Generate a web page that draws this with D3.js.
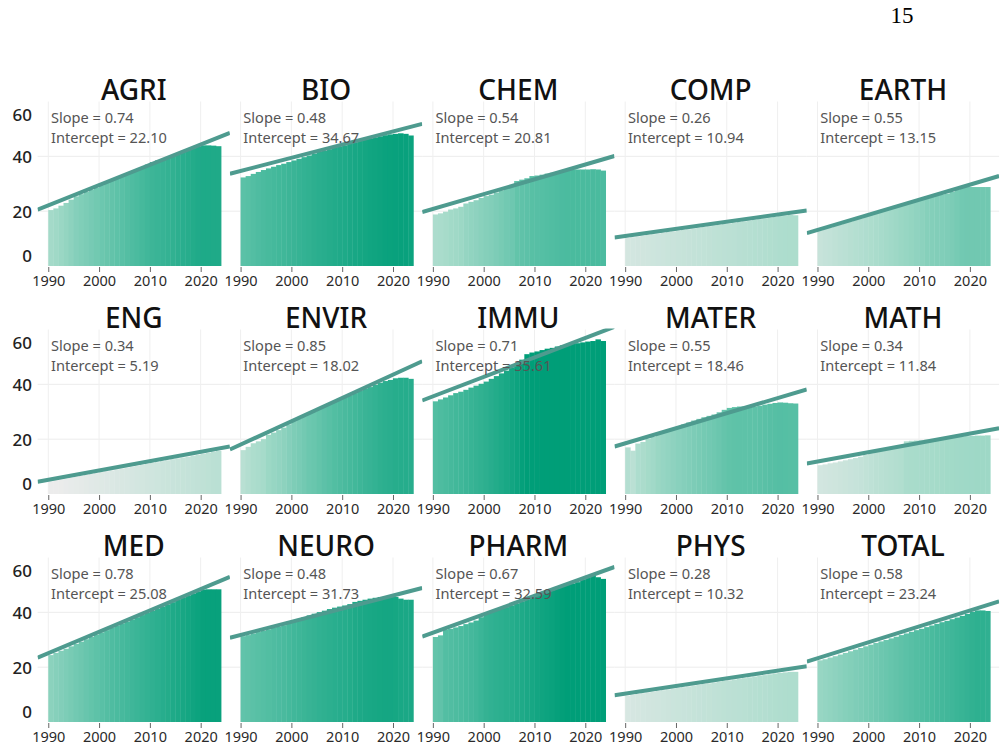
<!DOCTYPE html>
<html>
<head>
<meta charset="utf-8">
<script src="https://cdn.jsdelivr.net/npm/d3@7"></script>
<style>
  html, body { margin: 0; padding: 0; background: #ffffff; }
  svg { display: block; }
</style>
</head>
<body>
<div id="chart"></div>
<script>
// ---------------- data ----------------
const years = [1990,1991,1992,1993,1994,1995,1996,1997,1998,1999,
               2000,2001,2002,2003,2004,2005,2006,2007,2008,2009,
               2010,2011,2012,2013,2014,2015,2016,2017,2018,2019,
               2020,2021,2022,2023];
const fields = ["AGRI","BIO","CHEM","COMP","EARTH","ENG","ENVIR","IMMU",
                "MATER","MATH","MED","NEURO","PHARM","PHYS","TOTAL"];
const slopes     = [0.74, 0.48, 0.54, 0.26, 0.55, 0.34, 0.85, 0.71, 0.55, 0.34, 0.78, 0.48, 0.67, 0.28, 0.58];
const intercepts = [22.10, 34.67, 20.81, 10.94, 13.15, 5.19, 18.02, 35.61, 18.46, 11.84, 25.08, 31.73, 32.59, 10.32, 23.24];
const xTickYears  = [1990, 2000, 2010, 2020];
const yTickValues = [0, 20, 40, 60];
const pageNumber = "15";

const agri  = [20.4,21.0,22.0,23.0,24.2,25.4,26.2,27.0,27.8,28.6,29.5,30.3,31.1,31.9,32.7,33.5,34.3,35.1,36.0,37.0,37.9,38.5,39.0,39.6,40.3,41.0,41.7,42.3,43.0,43.6,44.0,44.0,43.9,43.7];
const bio   = [32.3,32.8,33.6,34.3,35.0,35.6,36.2,36.8,37.3,37.9,38.5,39.1,39.7,40.3,41.0,41.6,42.0,42.6,43.1,43.6,44.0,44.6,45.1,45.6,46.0,46.5,46.9,47.3,47.7,48.0,48.2,48.4,48.2,47.6];
const chem  = [18.8,19.2,19.8,20.6,21.0,21.6,22.8,23.4,24.0,24.8,25.5,26.0,26.8,27.6,28.5,29.2,31.0,31.5,32.0,32.8,33.0,33.3,33.7,34.0,34.3,34.8,35.0,35.2,35.2,35.2,35.2,35.3,35.2,34.8];
const comp  = [10.2,10.5,10.8,11.0,11.3,11.6,11.8,12.1,12.4,12.6,12.9,13.2,13.4,13.7,14.0,14.2,14.5,14.8,15.0,15.3,15.5,15.8,16.1,16.3,16.6,16.9,17.1,17.4,17.7,17.9,18.2,18.4,18.6,18.5];
const earth = [13.0,13.5,14.0,14.6,15.2,15.8,16.3,16.9,17.4,18.0,18.6,19.2,19.7,20.3,20.8,21.4,22.0,22.5,23.0,23.6,24.3,25.3,25.6,25.9,26.1,26.4,27.0,27.7,28.5,28.8,28.8,28.8,28.8,28.8];
const eng   = [4.6,5.0,5.3,5.6,6.0,6.3,6.6,7.0,7.3,7.6,8.0,8.3,8.6,9.0,9.3,9.6,10.0,10.3,10.6,11.0,11.3,11.6,12.0,12.3,12.7,13.0,13.3,13.6,14.0,14.3,14.7,15.0,15.4,15.7];
const envir = [16.0,17.2,18.5,19.2,20.0,21.6,22.4,23.3,24.2,25.4,26.6,27.5,28.4,29.5,30.0,31.0,32.0,32.8,33.8,34.5,35.3,36.0,36.8,37.6,38.4,39.0,39.8,40.6,41.2,41.6,42.2,42.4,42.4,42.0];
const immu  = [33.8,34.5,35.2,36.0,36.8,37.3,38.0,38.8,39.5,40.2,41.0,42.0,43.0,44.0,45.0,46.2,47.5,49.0,51.0,51.6,52.0,52.5,53.0,53.3,53.8,54.2,54.5,54.8,55.0,55.3,55.6,55.8,56.4,55.8];
const mater = [17.0,15.8,18.4,19.0,20.2,20.8,22.0,22.6,23.3,24.0,24.7,25.4,26.1,26.8,27.4,28.0,28.5,29.0,29.8,30.7,31.4,31.7,31.9,31.9,31.9,31.9,32.2,32.6,32.9,33.2,33.4,33.3,33.1,33.0];
const math  = [10.5,10.8,11.2,11.5,11.9,12.3,12.7,13.1,13.6,14.2,14.9,15.4,15.9,16.3,16.7,17.2,17.6,19.2,19.4,19.5,19.6,19.8,20.0,20.2,20.4,20.6,20.7,20.8,21.0,21.1,21.2,21.3,21.3,21.4];
const med   = [24.4,25.2,26.0,26.7,27.6,28.5,29.3,30.2,31.0,31.9,32.7,33.5,34.3,35.1,35.9,36.6,37.4,38.2,39.0,39.8,40.5,41.3,42.1,42.9,43.7,44.5,45.3,46.0,46.8,47.6,48.3,48.4,48.4,48.4];
const neuro = [31.3,31.7,32.3,32.8,33.3,33.8,34.3,34.8,35.3,36.2,37.0,37.6,38.3,38.9,39.5,40.1,40.6,41.2,41.7,42.1,42.5,43.0,43.8,44.2,44.6,45.0,45.3,45.6,45.8,45.8,45.6,45.0,44.6,44.6];
const pharm = [31.0,31.6,33.7,34.0,34.5,35.0,35.7,36.3,37.0,38.2,39.5,40.1,40.7,41.3,41.9,42.5,43.2,43.9,44.6,45.4,46.2,46.8,47.4,48.1,48.8,49.5,50.0,50.5,51.0,51.9,52.8,53.5,52.8,52.2];
const phys  = [9.6,9.9,10.2,10.5,10.8,11.0,11.3,11.6,11.9,12.2,12.5,12.7,13.0,13.3,13.6,13.9,14.1,14.4,14.7,15.0,15.2,15.5,15.8,16.0,16.3,16.6,16.9,17.1,17.4,17.7,17.9,18.1,18.3,18.3];
const total = [22.5,22.9,23.5,24.0,24.6,25.2,25.8,26.4,27.0,27.6,28.2,28.8,29.4,29.9,30.5,31.1,31.7,32.3,32.9,33.5,34.0,34.6,35.2,35.8,36.4,36.9,37.5,38.1,38.7,39.4,40.2,40.7,40.7,40.5];

const seriesList = [agri, bio, chem, comp, earth, eng, envir, immu, mater, math, med, neuro, pharm, phys, total];

// colour ramp stops (value -> colour)
const colorStops  = [5, 20, 35, 50];
const colorRange  = ["#ececec", "#a6dbca", "#4bbb9f", "#009e78"];

// ---------------- layout ----------------
const W = 1007, H = 754;
const panelW = 192.3;
const panel0Left = 37.6;
const rowStep = 228;
const panel0Top = 101.5;
const panel0Zero = 266;
const xDomain = [1987.9, 2025.75];

const svg = d3.select("#chart").append("svg")
  .attr("width", W).attr("height", H)
  .attr("font-family", "'Noto Sans', 'Open Sans', sans-serif");

svg.append("rect").attr("width", W).attr("height", H).attr("fill", "#ffffff");

// page number
svg.append("text")
  .attr("x", 902).attr("y", 23)
  .attr("text-anchor", "middle")
  .attr("font-family", "'Liberation Serif', 'Times New Roman', serif")
  .attr("font-size", 23)
  .attr("fill", "#000")
  .text(pageNumber);

const color = d3.scaleLinear()
  .domain(colorStops)
  .range(colorRange)
  .interpolate(d3.interpolateRgb)
  .clamp(true);

const defs = svg.append("defs");

fields.forEach((name, k) => {
  const col = k % 5, row = Math.floor(k / 5);
  const left = panel0Left + panelW * col;
  const top = panel0Top + rowStep * row;
  const zero = panel0Zero + rowStep * row;

  const x = d3.scaleLinear().domain(xDomain).range([left, left + panelW]);
  const y = d3.scaleLinear().domain([0, 60]).range([zero, top]);

  const g = svg.append("g");

  // gridlines
  g.append("g").selectAll("line.h")
    .data([20, 40]).join("line")
    .attr("x1", left).attr("x2", left + panelW)
    .attr("y1", d => y(d)).attr("y2", d => y(d))
    .attr("stroke", "#ececec").attr("stroke-width", 1);
  g.append("g").selectAll("line.v")
    .data(xTickYears).join("line")
    .attr("x1", d => x(d)).attr("x2", d => x(d))
    .attr("y1", top).attr("y2", zero)
    .attr("stroke", "#efefef").attr("stroke-width", 1);

  // bars
  const vals = seriesList[k];
  g.append("g").selectAll("rect")
    .data(vals).join("rect")
    .attr("x", (d, i) => x(years[i]))
    .attr("width", (d, i) => x(years[i] + 1) - x(years[i]) + 0.4)
    .attr("y", d => y(d))
    .attr("height", d => y(0) - y(d))
    .attr("fill", d => color(d));

  // regression line (clipped to panel)
  const cid = "clip" + k;
  defs.append("clipPath").attr("id", cid)
    .append("rect").attr("x", left).attr("y", top - 1)
    .attr("width", panelW).attr("height", zero - top + 20);
  const s = slopes[k], b = intercepts[k];
  g.append("line")
    .attr("clip-path", "url(#" + cid + ")")
    .attr("x1", x(xDomain[0])).attr("y1", y(b + s * (xDomain[0] - 1990)))
    .attr("x2", x(xDomain[1])).attr("y2", y(b + s * (xDomain[1] - 1990)))
    .attr("stroke", "#4e9b8f").attr("stroke-width", 4);

  // x axis
  const xAxis = d3.axisBottom(x).tickValues(xTickYears).tickFormat(d3.format("d"))
    .tickSize(5).tickPadding(4);
  const ax = g.append("g").attr("transform", `translate(0,${zero + 1})`).call(xAxis);
  ax.select(".domain").remove();
  ax.selectAll(".tick line").attr("stroke", "#666");
  ax.selectAll(".tick text")
    .attr("font-family", "'Noto Sans', sans-serif")
    .attr("font-size", 14.5).attr("fill", "#2a2a2a");

  // title
  g.append("text")
    .attr("x", left + panelW / 2).attr("y", top - 2)
    .attr("text-anchor", "middle")
    .attr("font-size", 28).attr("font-weight", 500).attr("fill", "#111")
    .text(name);

  // annotation
  g.append("text")
    .attr("x", left + 13.4).attr("y", top + 21.5)
    .attr("font-size", 14.6).attr("fill", "#555")
    .text("Slope = " + s.toFixed(2));
  g.append("text")
    .attr("x", left + 13.4).attr("y", top + 41.2)
    .attr("font-size", 14.6).attr("fill", "#555")
    .text("Intercept = " + b.toFixed(2));

  // y axis labels (first column only)
  if (col === 0) {
    const yLab = d3.scaleLinear()
      .domain(yTickValues)
      .range([256, 212.5, 157.5, 115].map(v => v + rowStep * row));
    const yAxis = d3.axisLeft(yLab).tickValues(yTickValues).tickSize(0).tickPadding(0);
    const ay = svg.append("g").attr("transform", "translate(32,0)").call(yAxis);
    ay.select(".domain").remove();
    ay.selectAll(".tick text")
      .attr("font-family", "'Noto Sans', sans-serif")
      .attr("font-size", 17).attr("font-weight", 500).attr("fill", "#222");
  }
});
</script>
</body>
</html>
